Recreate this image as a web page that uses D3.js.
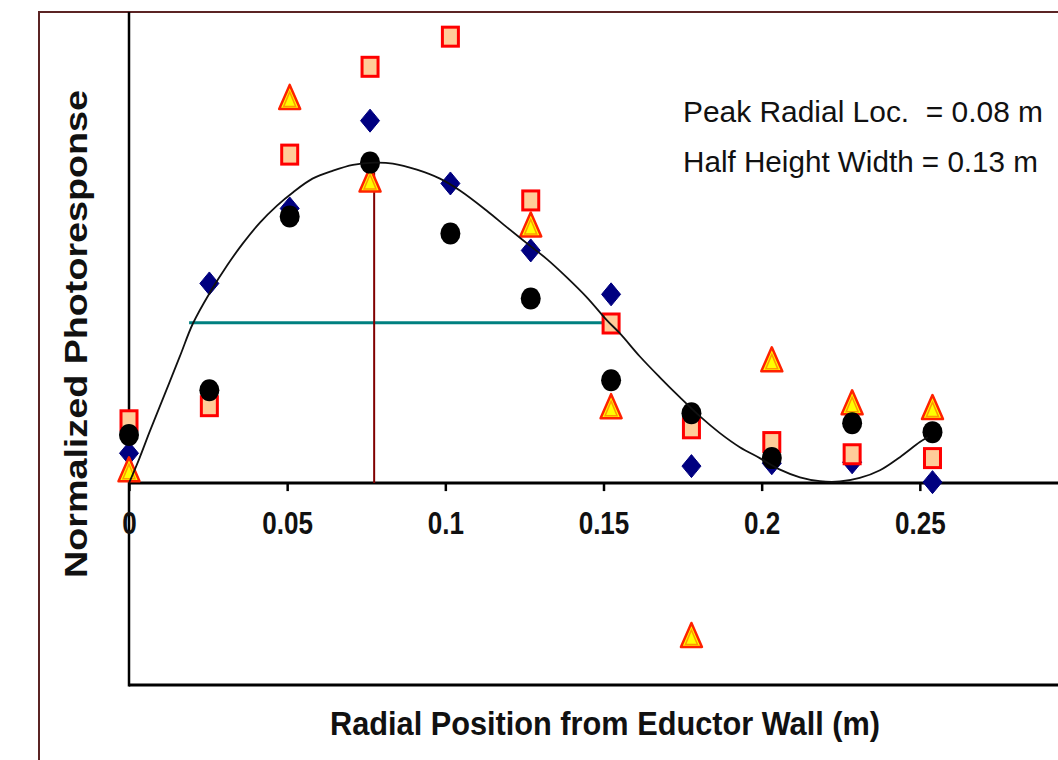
<!DOCTYPE html>
<html>
<head>
<meta charset="utf-8">
<script src="https://cdn.jsdelivr.net/npm/d3@7"></script>
<style>
body { margin: 0; background: #fff; }
svg text { font-family: "Liberation Sans", Arial, sans-serif; fill: #111; }
</style>
</head>
<body>
<div id="chart"></div>
<script>
// radial positions (m), one inch apart
const xPos = [0, 0.0254, 0.0508, 0.0762, 0.1016, 0.127, 0.1524, 0.1778, 0.2032, 0.2286, 0.254];

// normalized photoresponse for each run
const diamondVals = [0.093, 0.623, 0.857, 1.131, 0.935, 0.726, 0.589, 0.053, 0.062, 0.065, 0.003];
const circleVals = [0.150, 0.290, 0.832, 1.000, 0.779, 0.576, 0.321, 0.218, 0.078, 0.187, 0.159];
const squareVals = [0.196, 0.240, 1.025, 1.299, 1.393, 0.882, 0.498, 0.171, 0.128, 0.090, 0.078];
const triangleVals = [0.040, null, 1.202, 0.944, null, 0.804, 0.237, -0.477, 0.383, 0.249, 0.234];

// fitted curve
const fitX = [0, 0.0032, 0.0066, 0.0114, 0.0161, 0.0202, 0.0256, 0.031, 0.036, 0.0414, 0.0468, 0.0518,
  0.058, 0.0645, 0.0708, 0.0775, 0.0834, 0.091, 0.0983, 0.1046, 0.1131, 0.1195, 0.1258, 0.1321, 0.1384,
  0.1448, 0.1511, 0.1552, 0.1615, 0.1678, 0.1741, 0.1805, 0.1868, 0.1931, 0.1994, 0.2058, 0.2121, 0.2184,
  0.2247, 0.231, 0.2374, 0.2437, 0.25, 0.2525];
const fitY = [0, 0.075, 0.162, 0.280, 0.396, 0.498, 0.595, 0.679, 0.748, 0.813, 0.866, 0.907,
  0.950, 0.975, 0.993, 1.000, 0.997, 0.978, 0.950, 0.913, 0.850, 0.798, 0.748, 0.699, 0.642,
  0.579, 0.508, 0.467, 0.395, 0.330, 0.268, 0.208, 0.156, 0.112, 0.078, 0.042, 0.018, 0.006,
  0.005, 0.016, 0.040, 0.081, 0.128, 0.143];

const xTicks = [0, 0.05, 0.1, 0.15, 0.2, 0.25];
const xTickLabels = ["0", "0.05", "0.1", "0.15", "0.2", "0.25"];

const peakX = 0.0775;
const peakTop = 0.97;
const halfHeight = 0.5;
const halfFrom = 0.019, halfTo = 0.15;

const notes = ["Peak Radial Loc.  = 0.08 m", "Half Height Width = 0.13 m"];

const width = 1058, height = 760;

const svg = d3.select("#chart").append("svg")
    .attr("width", width)
    .attr("height", height);

const x = d3.scaleLinear().domain([0, 0.3]).range([129, 1078]);
const y = d3.scaleLinear().domain([-0.63, 1.47]).range([685, 12]);

// outer frame (cropped)
svg.append("path")
    .attr("d", `M39,${height} V12 H${width}`)
    .attr("fill", "none")
    .attr("stroke", "#5b2424")
    .attr("stroke-width", 2);

// left axis and bottom of plot
svg.append("line")
    .attr("x1", x(0)).attr("x2", x(0))
    .attr("y1", y(1.47)).attr("y2", y(-0.63) + 1.5)
    .attr("stroke", "#000").attr("stroke-width", 2.5);
svg.append("line")
    .attr("x1", x(0)).attr("x2", x(0.3))
    .attr("y1", y(-0.63)).attr("y2", y(-0.63))
    .attr("stroke", "#000").attr("stroke-width", 3);

// zero line with ticks
const xAxis = svg.append("g")
    .attr("transform", `translate(0, ${y(0)})`)
    .call(d3.axisBottom(x).tickValues(xTicks)
        .tickFormat((d, i) => xTickLabels[i])
        .tickSize(8).tickPadding(21));
xAxis.select(".domain").remove();
xAxis.selectAll(".tick line").attr("stroke", "#000").attr("stroke-width", 2.5);
xAxis.append("line")
    .attr("x1", x(0)).attr("x2", x(0.3))
    .attr("stroke", "#000").attr("stroke-width", 3);
xAxis.selectAll(".tick text")
    .attr("font-size", 31).attr("font-weight", "bold")
    .attr("font-family", "Liberation Sans, Arial, sans-serif")
    .attr("fill", "#111");

function squeeze(sel, k) {
    sel.each(function () {
        const w = this.getComputedTextLength();
        d3.select(this).attr("textLength", w * k).attr("lengthAdjust", "spacingAndGlyphs");
    });
}
squeeze(xAxis.selectAll(".tick text"), 0.84);

// axis titles
svg.append("text")
    .attr("x", 605).attr("y", 735)
    .attr("text-anchor", "middle")
    .attr("font-size", 33).attr("font-weight", "bold")
    .attr("textLength", 550).attr("lengthAdjust", "spacingAndGlyphs")
    .text("Radial Position from Eductor Wall (m)");

svg.append("text")
    .attr("transform", "translate(87, 334) rotate(-90)")
    .attr("text-anchor", "middle")
    .attr("font-size", 31).attr("font-weight", "bold")
    .attr("textLength", 488).attr("lengthAdjust", "spacingAndGlyphs")
    .text("Normalized Photoresponse");

// notes
svg.selectAll(".note")
    .data(notes)
    .join("text")
    .attr("class", "note")
    .attr("x", 683)
    .attr("y", (d, i) => 122 + i * 50)
    .attr("font-size", 30)
    .style("white-space", "pre")
    .attr("textLength", (d, i) => i === 0 ? 360 : 355)
    .attr("lengthAdjust", "spacingAndGlyphs")
    .text(d => d);

// peak and half-height markers
svg.append("line")
    .attr("x1", x(halfFrom)).attr("x2", x(halfTo))
    .attr("y1", y(halfHeight)).attr("y2", y(halfHeight))
    .attr("stroke", "#008080").attr("stroke-width", 3);
svg.append("line")
    .attr("x1", x(peakX)).attr("x2", x(peakX))
    .attr("y1", y(0)).attr("y2", y(peakTop))
    .attr("stroke", "#800000").attr("stroke-width", 2);

const pts = vals => xPos.map((d, i) => ({ x: d, y: vals[i] })).filter(d => d.y !== null);

svg.append("g")
    .selectAll("path")
    .data(pts(diamondVals))
    .join("path")
    .attr("transform", d => `translate(${x(d.x)}, ${y(d.y)})`)
    .attr("d", "M0,-11.5L9.5,0L0,11.5L-9.5,0Z")
    .attr("fill", "#000080")
    .attr("stroke", "#000080").attr("stroke-width", 1)
    .attr("stroke-linejoin", "round");

svg.append("g")
    .selectAll("rect")
    .data(pts(squareVals))
    .join("rect")
    .attr("x", d => x(d.x) - 8)
    .attr("y", d => y(d.y) - 9.5)
    .attr("width", 16).attr("height", 19)
    .attr("fill", "#ffcc99")
    .attr("stroke", "#ff0000").attr("stroke-width", 3);

const tri = svg.append("g")
    .selectAll("g")
    .data(pts(triangleVals))
    .join("g")
    .attr("transform", d => `translate(${x(d.x)}, ${y(d.y)})`);
tri.append("path")
    .attr("d", "M0,-13L10.5,11L-10.5,11Z")
    .attr("fill", "#ffff00")
    .attr("stroke", "#ff2200").attr("stroke-width", 2.5)
    .attr("stroke-linejoin", "round");
tri.append("path")
    .attr("d", "M0,-6L6,8.5L-6,8.5Z")
    .attr("fill", "none")
    .attr("stroke", "#ff9900").attr("stroke-width", 1.5);

svg.append("g")
    .selectAll("ellipse")
    .data(pts(circleVals))
    .join("ellipse")
    .attr("cx", d => x(d.x))
    .attr("cy", d => y(d.y))
    .attr("rx", 10).attr("ry", 11)
    .attr("fill", "#000");

// fitted curve
const line = d3.line()
    .x(d => x(d))
    .y((d, i) => y(fitY[i]))
    .curve(d3.curveCatmullRom.alpha(0.5));
svg.append("path")
    .attr("d", line(fitX))
    .attr("fill", "none")
    .attr("stroke", "#111")
    .attr("stroke-width", 1.8);
</script>
</body>
</html>
